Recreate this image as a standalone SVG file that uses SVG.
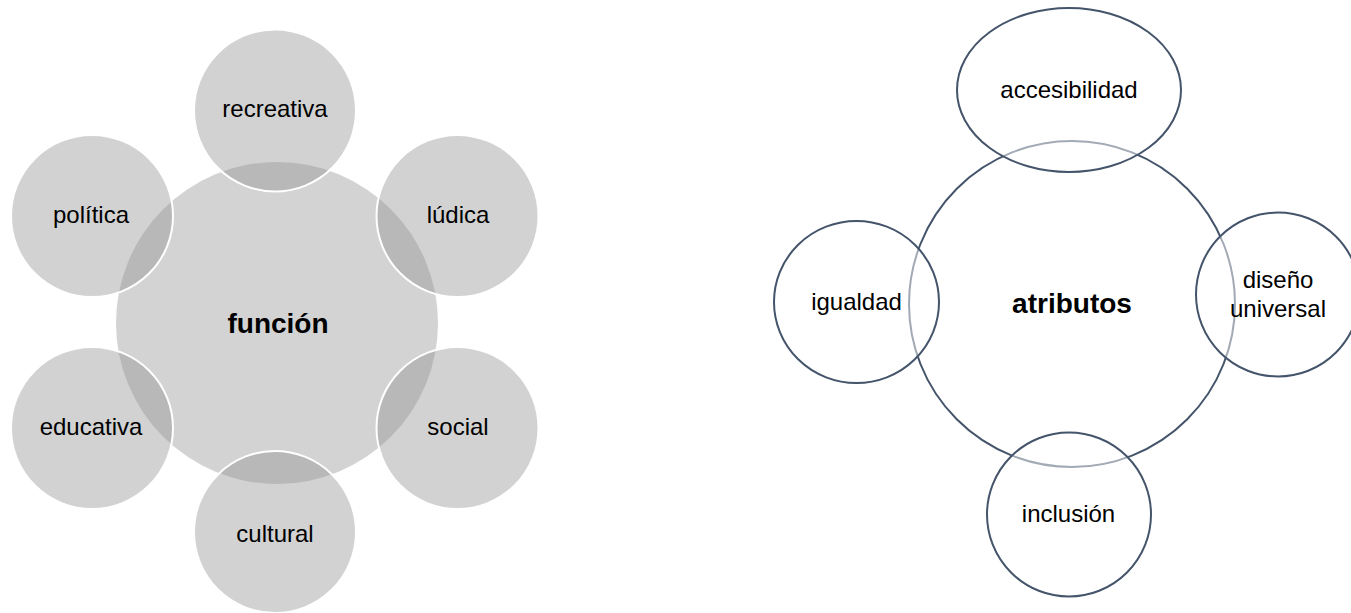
<svg xmlns="http://www.w3.org/2000/svg" width="1351" height="613" viewBox="0 0 1351 613">
  <style>
    .label { font-family: "Liberation Sans", Arial, sans-serif; font-size: 24px; fill: #000; text-anchor: middle; }
    .hub-label { font-family: "Liberation Sans", Arial, sans-serif; font-size: 28px; font-weight: bold; fill: #000; text-anchor: middle; }
    .gray-hub { fill: #d3d3d3; }
    .gray-sat { fill: #949494; fill-opacity: 0.42; stroke: #ffffff; stroke-width: 2; }
    .line-hub { fill: #ffffff; stroke: #44546a; stroke-width: 2; }
    .line-sat { fill: #ffffff; fill-opacity: 0.5; stroke: #44546a; stroke-width: 2; }
  </style>

  <!-- Radial cluster: función -->
  <g id="funcion">
    <circle class="gray-hub" cx="277" cy="323" r="161"/>
    <text class="hub-label" x="278" y="333">función</text>
  </g>
  <g id="recreativa">
    <circle class="gray-sat" cx="275" cy="110.5" r="81"/>
    <text class="label" x="275" y="117">recreativa</text>
  </g>
  <g id="ludica">
    <circle class="gray-sat" cx="457.5" cy="216" r="81"/>
    <text class="label" x="458" y="223">lúdica</text>
  </g>
  <g id="social">
    <circle class="gray-sat" cx="457.5" cy="428" r="81"/>
    <text class="label" x="458" y="435">social</text>
  </g>
  <g id="cultural">
    <circle class="gray-sat" cx="275" cy="532" r="81"/>
    <text class="label" x="275" y="541.5">cultural</text>
  </g>
  <g id="educativa">
    <circle class="gray-sat" cx="92" cy="428" r="81"/>
    <text class="label" x="91" y="435">educativa</text>
  </g>
  <g id="politica">
    <circle class="gray-sat" cx="92" cy="216" r="81"/>
    <text class="label" x="91" y="223">política</text>
  </g>

  <!-- Radial cluster: atributos -->
  <g id="atributos">
    <circle class="line-hub" cx="1072" cy="304" r="163"/>
    <text class="hub-label" x="1072" y="313">atributos</text>
  </g>
  <g id="accesibilidad">
    <ellipse class="line-sat" cx="1069" cy="90" rx="112" ry="82"/>
    <text class="label" x="1069" y="97.5">accesibilidad</text>
  </g>
  <g id="diseno-universal">
    <ellipse class="line-sat" cx="1278" cy="294.5" rx="82" ry="82"/>
    <text class="label" x="1278" y="288">diseño</text>
    <text class="label" x="1278" y="316.5">universal</text>
  </g>
  <g id="inclusion">
    <ellipse class="line-sat" cx="1069" cy="514.5" rx="82" ry="82"/>
    <text class="label" x="1068.5" y="521.5">inclusión</text>
  </g>
  <g id="igualdad">
    <ellipse class="line-sat" cx="856.5" cy="302" rx="82.5" ry="81"/>
    <text class="label" x="856.5" y="310">igualdad</text>
  </g>

  <!-- no connectors: satellites touch the hubs directly -->
  <g id="connectors"/>
</svg>
